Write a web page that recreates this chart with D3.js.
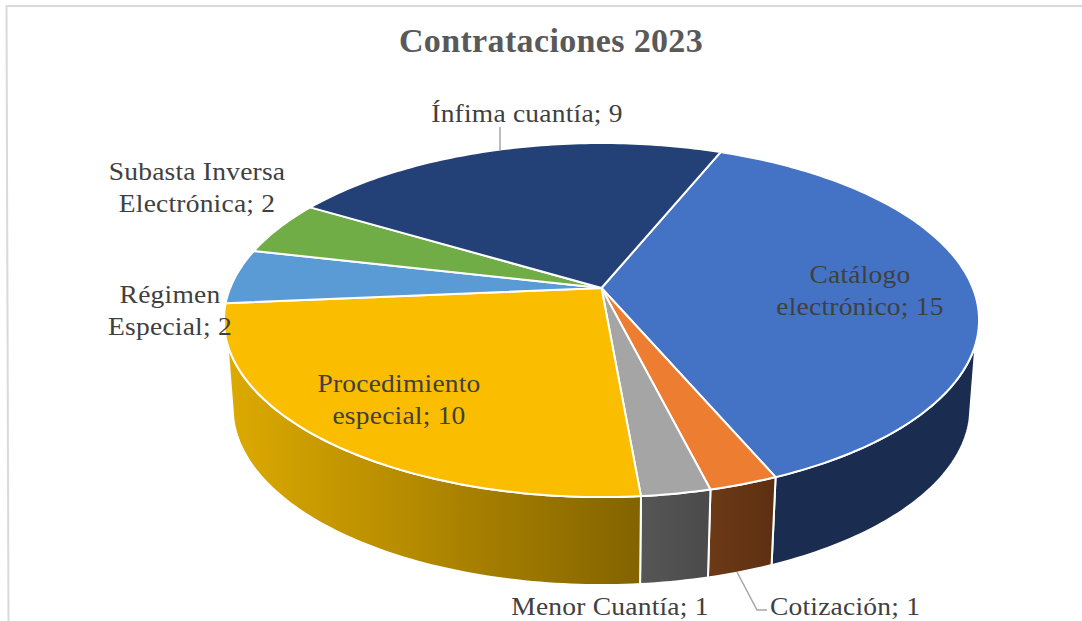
<!DOCTYPE html>
<html>
<head>
<meta charset="utf-8">
<script src="https://cdn.jsdelivr.net/npm/d3@7"></script>
<style>
  html, body { margin: 0; padding: 0; background: #fff; overflow: hidden; }
  text { font-family: "Liberation Serif", serif; fill: #404040; font-size: 25px; letter-spacing: 0.2px; text-anchor: middle; }
  .title { fill: #595959; font-size: 34px; font-weight: bold; letter-spacing: 0.35px; }
</style>
</head>
<body>
<svg id="chart" width="1082" height="621"></svg>
<script>
// values, clockwise from the top
const categories = ["Catálogo electrónico", "Cotización", "Menor Cuantía", "Procedimiento especial",
    "Régimen Especial", "Subasta Inversa Electrónica", "Ínfima cuantía"];
const values = [15, 1, 1, 10, 2, 2, 9];
const topColors = ["#4472c4", "#ed7d31", "#a5a5a5", "#fbbd00", "#5b9bd5", "#70ad47", "#234176"];
const wallFrom = ["#1a2d50", "#6d3a17", "#565656", "#dcaa00"];
const wallTo = ["#1a2d50", "#5d2f11", "#4a4a4a", "#836300"];
const labelLines = [["Catálogo", "electrónico; 15"], ["Cotización; 1"], ["Menor Cuantía; 1"],
    ["Procedimiento", "especial; 10"], ["Régimen", "Especial; 2"],
    ["Subasta Inversa", "Electrónica; 2"], ["Ínfima cuantía; 9"]];
const labelPos = [[860, 283], [845, 615], [610, 615], [399, 392], [170, 303], [197, 180], [527, 122]];

const rad = d3.scaleLinear().domain([0, 360]).range([0, 2 * Math.PI]);
const svg = d3.select("#chart");

// perspective of a tilted disc: the apex is not the middle of the ellipse
const apex = [601.5, 288], a = 371.3, b = 171.2, k = 0.181;
const depth = 88, bottomScale = 0.977;

function rimTop(t) {
    const w = 1 + k * Math.cos(t);
    return [apex[0] + a * Math.sin(t) / w, apex[1] - b * Math.cos(t) / w];
}
function rimBottom(t) {
    const p = rimTop(t);
    return [apex[0] + (p[0] - apex[0]) * bottomScale, p[1] + depth];
}
function sample(t0, t1) {
    const n = Math.max(2, Math.ceil(Math.abs(t1 - t0) / rad(1)));
    return d3.range(n + 1).map(i => t0 + (t1 - t0) * i / n);
}

const pie = d3.pie().sort(null).startAngle(rad(22)).endAngle(rad(382));
const arcs = pie(values);
const line = d3.line().curve(d3.curveLinear);

// frame of the chart area
svg.append("path")
    .attr("d", "M1082,6H6.5L8.5,621")
    .attr("fill", "none")
    .attr("stroke", "#d9d9d9")
    .attr("stroke-width", 2);

// side wall, only the slices facing the viewer
const defs = svg.append("defs");
wallFrom.forEach((c, i) => {
    const g = defs.append("linearGradient").attr("id", "wall" + i);
    g.append("stop").attr("offset", 0).attr("stop-color", c);
    g.append("stop").attr("offset", 1).attr("stop-color", wallTo[i]);
});

const topEdge = [rad(108), rad(252)], bottomEdge = [rad(104), rad(256)];
svg.append("g")
    .selectAll("path")
    .data(arcs.slice(0, wallFrom.length))
    .join("path")
    .attr("d", d => {
        const up = sample(Math.max(d.startAngle, topEdge[0]), Math.min(d.endAngle, topEdge[1])).map(rimTop);
        const down = sample(Math.min(d.endAngle, bottomEdge[1]), Math.max(d.startAngle, bottomEdge[0])).map(rimBottom);
        return line(up.concat(down)) + "Z";
    })
    .attr("fill", (d, i) => `url(#wall${i})`)
    .attr("stroke", "#fff")
    .attr("stroke-width", 2)
    .attr("stroke-linejoin", "round");

// top face
svg.append("g")
    .selectAll("path")
    .data(arcs)
    .join("path")
    .attr("d", d => line([apex].concat(sample(d.startAngle, d.endAngle).map(rimTop))) + "Z")
    .attr("fill", (d, i) => topColors[i])
    .attr("stroke", "#fff")
    .attr("stroke-width", 2)
    .attr("stroke-linejoin", "round");

// leader lines
svg.append("g")
    .selectAll("path")
    .data([[[500, 127], [500, 150]], [[737, 572], [757, 610], [767, 610]]])
    .join("path")
    .attr("d", d => line(d))
    .attr("fill", "none")
    .attr("stroke", "#a6a6a6")
    .attr("stroke-width", 1.5);

// labels, stretched a little since Cambria is not installed
const label = svg.append("g")
    .selectAll("text")
    .data(categories)
    .join("text")
    .attr("transform", (d, i) => `translate(${labelPos[i]}) scale(1.1,1)`);
label.selectAll("tspan")
    .data((d, i) => labelLines[i])
    .join("tspan")
    .attr("x", 0)
    .attr("dy", (d, i) => i ? 32 : 0)
    .text(d => d);

svg.append("text")
    .attr("class", "title")
    .attr("x", 551)
    .attr("y", 52)
    .text("Contrataciones 2023");
</script>
</body>
</html>
